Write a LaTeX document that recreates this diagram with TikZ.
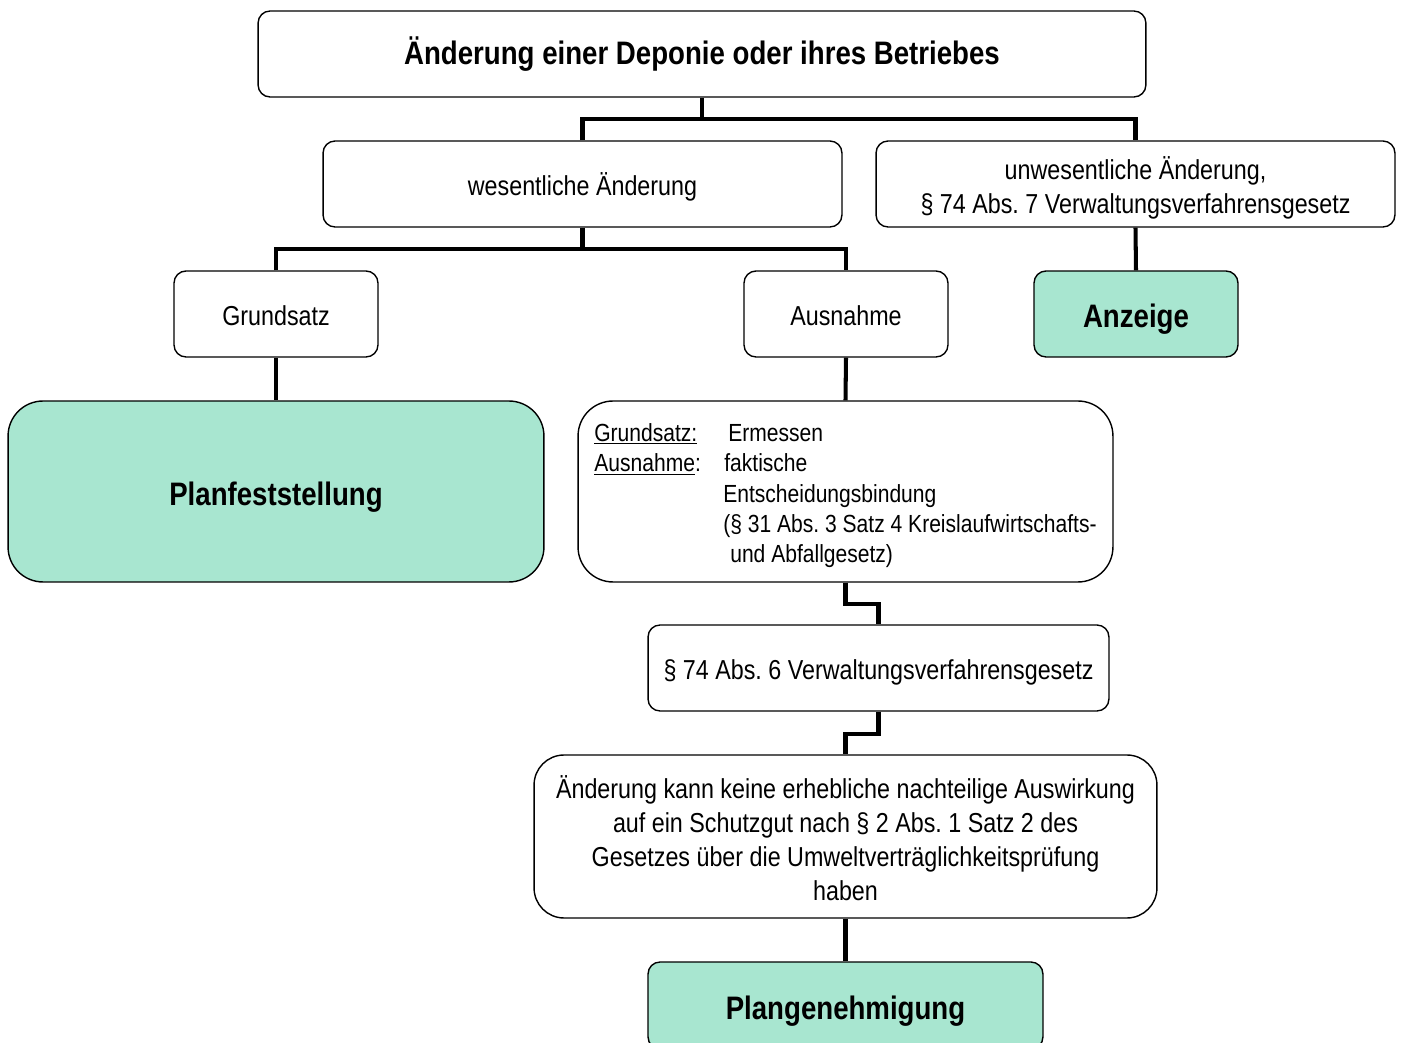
\documentclass[tikz,border=0pt]{standalone}
\usepackage{fontspec}
\setmainfont[FakeStretch=0.85]{Liberation Sans}
\frenchspacing
\definecolor{gruen}{RGB}{168,230,208}
\newcommand{\hochstrut}[1]{\rule{0pt}{#1}}
\tikzset{
  rahmen/.style={draw, line width=0.8pt, rounded corners=0.24cm, inner sep=0pt,
    minimum height=1.72cm, align=center},
  stuetze/.style 2 args={execute at begin node={\rule{0pt}{#1}},
    execute at end node={\rule[-#2]{0pt}{0pt}}},
  normal/.style={font=\fontsize{15.6}{19.35}\selectfont},
  kasten/.style={rahmen, normal, stuetze={16.8pt}{3.4pt}},
  gross/.style={rounded corners=0.7cm},
  ergebnis/.style={rahmen, fill=gruen, font=\fontsize{18.5}{22}\selectfont\bfseries,
    stuetze={19.4pt}{4pt}},
  linie/.style={line width=2.3pt}
}
\begin{document}
\begin{tikzpicture}[x=0.02cm, y=-0.02cm]
    \useasboundingbox (0,0) rectangle (1401,1043);
    \clip (0,0) rectangle (1401,1043);

    % Knoten
    \node[rahmen, minimum width=17.76cm, font=\fontsize{18.5}{22}\selectfont\bfseries] (titel) at (702,54)
        {Änderung einer Deponie oder ihres Betriebes};
    \node[kasten, minimum width=10.38cm] (wes) at (582.5,184) {wesentliche Änderung};
    \node[rahmen, normal, minimum width=10.38cm] (unwes) at (1135.5,184)
        {\hochstrut{17.1pt}unwesentliche Änderung,\\§ 74 Abs. 7 Verwaltungsverfahrensgesetz};
    \node[kasten, minimum width=4.08cm] (grund) at (276,314) {Grundsatz};
    \node[kasten, minimum width=4.08cm] (ausn) at (846,314) {Ausnahme};
    \node[ergebnis, minimum width=4.08cm] (anzeige) at (1136,314) {Anzeige};
    \node[ergebnis, gross, minimum width=10.72cm, minimum height=3.62cm] (planfest) at (276,491.5)
        {Planfeststellung};
    \node[rahmen, gross, minimum width=10.70cm, minimum height=3.62cm, align=left,
        font=\fontsize{14.1}{17.35}\selectfont] (erm) at (845.5,491.5)
        {\hochstrut{14.9pt}\makebox[2.68cm][l]{\underline{Grundsatz:}}Ermessen\\
         \makebox[2.60cm][l]{\underline{Ausnahme}:}faktische\\
         \hspace*{2.58cm}Entscheidungsbindung\\
         \hspace*{2.58cm}(§ 31 Abs. 3 Satz 4 Kreislaufwirtschafts-\\
         \hspace*{2.72cm}und Abfallgesetz)};
    \node[kasten, minimum width=9.22cm] (p74) at (878.5,668) {§ 74 Abs. 6 Verwaltungsverfahrensgesetz};
    \node[rahmen, normal, rounded corners=0.6cm, minimum width=12.46cm, minimum height=3.26cm] (kann) at (845.5,836.5)
        {\hochstrut{14.8pt}Änderung kann keine erhebliche nachteilige Auswirkung\\
         auf ein Schutzgut nach § 2 Abs. 1 Satz 2 des\\
         Gesetzes über die Umweltverträglichkeitsprüfung\\
         haben};
    \node[ergebnis, minimum width=7.90cm, minimum height=1.74cm] (plangen) at (845.5,1005.5)
        {Plangenehmigung};

    % Verbindungen
    \coordinate (k1) at (702,119);
    \coordinate (k2) at (582.5,249);
    \draw[linie] (titel.south) -- (k1);
    \draw[linie] (wes.north) |- (k1) -| (unwes.north);
    \draw[linie] (wes.south) -- (k2);
    \draw[linie] (grund.north) |- (k2) -| (ausn.north);
    \draw[linie] (unwes.south) -- (anzeige.north);
    \draw[linie] (grund.south) -- (planfest.north);
    \draw[linie] (ausn.south) -- (erm.north);
    \draw[linie] (erm.south) -- ++(0,21) -| (p74.north);
    \draw[linie] (p74.south) -- ++(0,22) -| (kann.north);
    \draw[linie] (kann.south) -- (plangen.north);

\end{tikzpicture}
\end{document}
